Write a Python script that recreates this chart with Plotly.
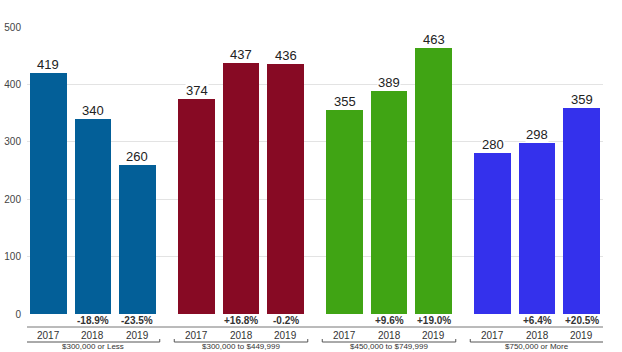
import plotly.graph_objects as go

groups = ["$300,000 or Less", "$300,000 to $449,999", "$450,000 to $749,999", "$750,000 or More"]
years = ["2017", "2018", "2019"]
values = [
    [419, 340, 260],
    [374, 437, 436],
    [355, 389, 463],
    [280, 298, 359],
]
changes = [
    ["", "-18.9%", "-23.5%"],
    ["", "+16.8%", "-0.2%"],
    ["", "+9.6%", "+19.0%"],
    ["", "+6.4%", "+20.5%"],
]
colors = ["#035f98", "#870a24", "#40a414", "#3431ec"]
y_ticks = [0, 100, 200, 300, 400, 500]

GROUP_STEP = 3.326   # spacing between groups, in bar slots
PLOT_H = 287.0       # plot height in px

def ypx(px):
    return -px / PLOT_H

fig = go.Figure()
annotations = []
shapes = []

for g, grp in enumerate(groups):
    xs = [g * GROUP_STEP + j for j in range(len(years))]
    fig.add_trace(go.Bar(
        x=xs, y=values[g], width=0.83,
        marker=dict(color=colors[g], line=dict(width=0)),
        showlegend=False, hoverinfo="skip",
    ))
    for j, x in enumerate(xs):
        annotations.append(dict(
            x=x, y=values[g][j], xref="x", yref="y", text=str(values[g][j]),
            showarrow=False, yanchor="bottom", yshift=0, bgcolor="white",
            borderpad=0, font=dict(size=13, color="#222", family="Liberation Sans"),
        ))
        if changes[g][j]:
            annotations.append(dict(
                x=x, y=0, xref="x", yref="paper", text="<b>" + changes[g][j] + "</b>",
                showarrow=False, yanchor="middle", yshift=-6, borderpad=0,
                font=dict(size=10, color="#333", family="Liberation Sans"),
            ))
        annotations.append(dict(
            x=x, y=0, xref="x", yref="paper", text=years[j],
            showarrow=False, yanchor="middle", yshift=-21, borderpad=0,
            font=dict(size=10, color="#333", family="Liberation Sans"),
        ))
    c = g * GROUP_STEP + 1
    x0, x1 = c - 1.5, c + 1.5
    yb = ypx(28)
    yt = ypx(25)
    shapes.append(dict(type="path", xref="x", yref="paper",
                       path=f"M {x0},{yt} L {x0},{yb} L {x1},{yb} L {x1},{yt}",
                       line=dict(color="#555", width=1)))
    annotations.append(dict(
        x=c, y=0, xref="x", yref="paper", text=grp,
        showarrow=False, yanchor="bottom", yshift=-38, borderpad=0,
        font=dict(size=8, color="#333", family="Liberation Sans"),
    ))

shapes.append(dict(type="line", xref="paper", yref="paper", x0=0, x1=1,
                   y0=ypx(13), y1=ypx(13), line=dict(color="#777", width=1)))

fig.update_layout(
    width=622, height=352,
    margin=dict(l=27, r=19, t=27, b=38, autoexpand=False),
    paper_bgcolor="white", plot_bgcolor="white",
    bargap=0,
    xaxis=dict(range=[-0.483, 3 * GROUP_STEP + 2 + 0.483], showticklabels=False,
               showgrid=False, zeroline=False, showline=False, ticks="", automargin=False),
    yaxis=dict(range=[0, 500], tickvals=y_ticks, showgrid=True, gridcolor="#e3e3e3",
               gridwidth=1, zeroline=False, showline=False, ticks="", automargin=False,
               tickfont=dict(size=10, color="#444", family="Liberation Sans"),
               ticklabelstandoff=5),
    annotations=annotations,
    shapes=shapes,
)

fig.write_html("out.html")
